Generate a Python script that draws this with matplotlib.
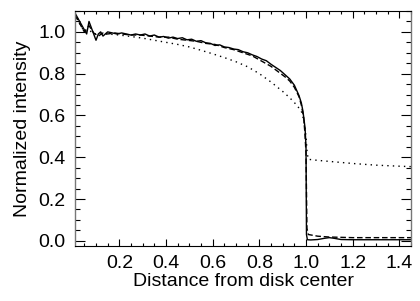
import matplotlib
matplotlib.use('Agg')
import matplotlib.pyplot as plt
from matplotlib.ticker import MultipleLocator

plt.rcParams['font.family'] = ['Liberation Sans', 'DejaVu Sans']

# Solid curve (observed profile)
x_solid = [0.01, 0.03, 0.05, 0.06, 0.07, 0.08, 0.09, 0.10, 0.11, 0.12, 0.13, 0.14,
           0.15, 0.17, 0.19, 0.21, 0.23, 0.25, 0.27, 0.29, 0.31, 0.33, 0.35, 0.37,
           0.39, 0.41, 0.43, 0.45, 0.47, 0.49, 0.51, 0.53, 0.55, 0.57, 0.59, 0.61,
           0.63, 0.65, 0.67, 0.69, 0.71, 0.73, 0.75, 0.77, 0.79, 0.81, 0.83, 0.85,
           0.87, 0.89, 0.91, 0.93, 0.95, 0.96, 0.97, 0.98, 0.987, 0.996, 1.0, 1.002,
           1.006, 1.02, 1.05, 1.08, 1.10, 1.12, 1.15, 1.20, 1.30, 1.45]
y_solid = [1.09, 1.05, 1.01, 0.99, 1.05, 1.02, 0.99, 0.96, 0.99, 1.00, 0.98, 0.99,
           1.00, 0.995, 0.99, 0.995, 0.99, 0.985, 0.99, 0.985, 0.99, 0.98, 0.985, 0.975,
           0.978, 0.97, 0.975, 0.968, 0.972, 0.962, 0.965, 0.955, 0.958, 0.948, 0.945, 0.935,
           0.938, 0.928, 0.925, 0.918, 0.915, 0.905, 0.9, 0.89, 0.882, 0.87, 0.862, 0.845,
           0.83, 0.815, 0.795, 0.775, 0.745, 0.72, 0.695, 0.66, 0.62, 0.54, 0.45, 0.03,
           0.005, 0.004, 0.006, 0.012, 0.015, 0.012, 0.006, 0.005, 0.005, 0.005]

# Dashed curve (model 1)
x_dash = [0.01, 0.03, 0.05, 0.07, 0.09, 0.11, 0.13, 0.15, 0.18, 0.21, 0.25, 0.29,
          0.33, 0.37, 0.41, 0.45, 0.49, 0.53, 0.57, 0.61, 0.65, 0.69, 0.73, 0.77,
          0.81, 0.85, 0.88, 0.91, 0.93, 0.95, 0.97, 0.98, 0.99, 0.995, 1.0, 1.004,
          1.01, 1.05, 1.10, 1.20, 1.30, 1.45]
y_dash = [1.08, 1.04, 1.00, 1.03, 0.995, 0.98, 0.995, 0.99, 0.995, 0.99, 0.985, 0.985,
          0.98, 0.975, 0.975, 0.965, 0.96, 0.955, 0.945, 0.94, 0.925, 0.915, 0.90, 0.885,
          0.86, 0.835, 0.81, 0.785, 0.765, 0.735, 0.69, 0.65, 0.59, 0.52, 0.42, 0.06,
          0.03, 0.022, 0.018, 0.015, 0.015, 0.015]

# Dotted curve (model 2)
x_dot = [0.01, 0.03, 0.05, 0.07, 0.09, 0.12, 0.15, 0.20, 0.25, 0.30, 0.35, 0.40,
         0.45, 0.50, 0.55, 0.60, 0.65, 0.70, 0.75, 0.80, 0.85, 0.90, 0.93, 0.96,
         0.98, 0.99, 1.0, 1.005, 1.01, 1.05, 1.10, 1.20, 1.30, 1.40, 1.45]
y_dot = [1.09, 1.04, 1.00, 1.01, 0.99, 0.99, 0.99, 0.985, 0.978, 0.97, 0.96, 0.95,
         0.94, 0.928, 0.912, 0.895, 0.877, 0.857, 0.833, 0.8, 0.76, 0.715, 0.685, 0.65,
         0.62, 0.58, 0.50, 0.42, 0.39, 0.385, 0.38, 0.37, 0.362, 0.357, 0.355]

fig = plt.figure(figsize=(4.2, 3.01), dpi=100)
ax = fig.add_axes([75 / 420, 1 - 246 / 301, 336 / 420, 235 / 301])

ax.plot(x_solid, y_solid, color='black', lw=1.0)
ax.plot(x_dash, y_dash, color='black', lw=1.0, linestyle=(0, (4, 2)))
ax.plot(x_dot, y_dot, color='black', lw=1.0, linestyle=(0, (1, 3)))

ax.set_xlim(0.01, 1.45)
ax.set_ylim(-0.025, 1.1)
ax.xaxis.set_major_locator(MultipleLocator(0.2))
ax.xaxis.set_minor_locator(MultipleLocator(0.05))
ax.yaxis.set_major_locator(MultipleLocator(0.2))
ax.yaxis.set_minor_locator(MultipleLocator(0.05))
ax.set_xticks([0.2, 0.4, 0.6, 0.8, 1.0, 1.2, 1.4])
ax.tick_params(which='both', direction='in', top=True, right=True, width=0.8)
ax.tick_params(axis='x', which='major', length=5, pad=6.5, labelsize=14)
ax.tick_params(axis='x', which='minor', length=2.5)
ax.tick_params(axis='y', which='major', length=7.2, pad=7, labelsize=14)
ax.tick_params(axis='y', which='minor', length=3.6)
for side in ['top', 'bottom']:
    ax.spines[side].set_linewidth(0.8)
for side in ['left', 'right']:
    ax.spines[side].set_linewidth(1.0)
    ax.spines[side].set_color('#777777')

ax.set_xlabel('Distance from disk center', fontsize=14, labelpad=1)
ax.set_ylabel('Normalized intensity', fontsize=14, labelpad=5)

fig.savefig('out.png', dpi=100)
